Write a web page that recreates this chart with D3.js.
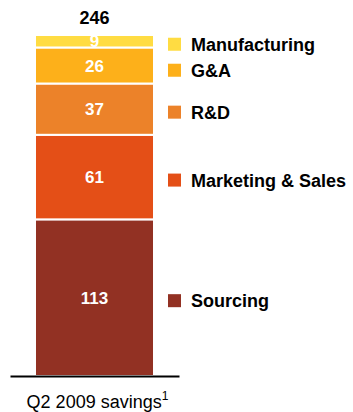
<!DOCTYPE html>
<html><head><meta charset="utf-8">
<script src="https://cdn.jsdelivr.net/npm/d3@7"></script>
<style>body{margin:0;background:#fff}svg{display:block}</style>
</head><body>
<svg id="c" width="353" height="412"></svg>
<script>
const categories = ["Sourcing", "Marketing & Sales", "R&D", "G&A", "Manufacturing"];
const values = [113, 61, 37, 26, 9];
const colors = ["#923123", "#E44F17", "#EC8229", "#FDB01A", "#FFDC42"];
const barLabel = "Q2 2009 savings";
const total = d3.sum(values);

const svg = d3.select("#c");
const font = "Liberation Sans, Arial, sans-serif";
const y = d3.scaleLinear().domain([0, total]).range([376, 35]);
const x = d3.scaleBand().domain([barLabel]).range([10, 179]).paddingInner(0).paddingOuter(0.21);

let cum = 0;
const segs = values.map((v, i) => { const s = {name: categories[i], v, y0: cum, y1: cum + v, color: colors[i]}; cum += v; return s; });

const g = svg.append("g");
g.selectAll("rect").data(segs).join("rect")
  .attr("x", x(barLabel)).attr("width", x.bandwidth())
  .attr("y", d => y(d.y1)).attr("height", d => y(d.y0) - y(d.y1))
  .attr("fill", d => d.color).attr("stroke", "#fff").attr("stroke-width", 2);

g.selectAll("text.v").data(segs).join("text").attr("class", "v")
  .attr("x", x(barLabel) + x.bandwidth() / 2)
  .attr("y", d => (y(d.y0) + y(d.y1)) / 2)
  .attr("dy", "0.36em").attr("text-anchor", "middle")
  .attr("font-family", font).attr("font-weight", "bold").attr("font-size", 17)
  .attr("fill", "#fff").text(d => d.v);

svg.append("text").attr("x", x(barLabel) + x.bandwidth() / 2).attr("y", 18).attr("dy", "0.36em")
  .attr("text-anchor", "middle").attr("font-family", font).attr("font-weight", "bold")
  .attr("font-size", 18).attr("fill", "#000").text(total);

// axis
const axis = d3.axisBottom(x).tickSize(0).tickFormat("");
const ag = svg.append("g").attr("transform", "translate(0,376)").call(axis);
ag.select(".domain").attr("stroke", "#000").attr("stroke-width", 2);

const xl = svg.append("text").attr("x", x(barLabel) + x.bandwidth() / 2 + 3).attr("y", 408)
  .attr("text-anchor", "middle").attr("font-family", font).attr("font-size", 18).attr("fill", "#000");
xl.append("tspan").text(barLabel);
xl.append("tspan").attr("font-size", 12).attr("dy", -8).text("1");

// legend positions: segment centers, resolved for overlap
const ly = segs.map(d => (y(d.y0) + y(d.y1)) / 2 + 3);
for (let i = ly.length - 2; i >= 0; i--) { if (ly[i] - ly[i + 1] < 26) ly[i] = ly[i + 1] + 26; }
const lg = svg.selectAll("g.l").data(segs).join("g").attr("class", "l")
  .attr("transform", (d, i) => `translate(168,${ly[i]})`);
lg.append("rect").attr("x", 0).attr("y", -6.5).attr("width", 13).attr("height", 13).attr("fill", d => d.color);
lg.append("text").attr("x", 23).attr("dy", "0.36em").attr("font-family", font).attr("font-weight", "bold")
  .attr("font-size", 18).attr("fill", "#000").text(d => d.name);
</script>
</body></html>
